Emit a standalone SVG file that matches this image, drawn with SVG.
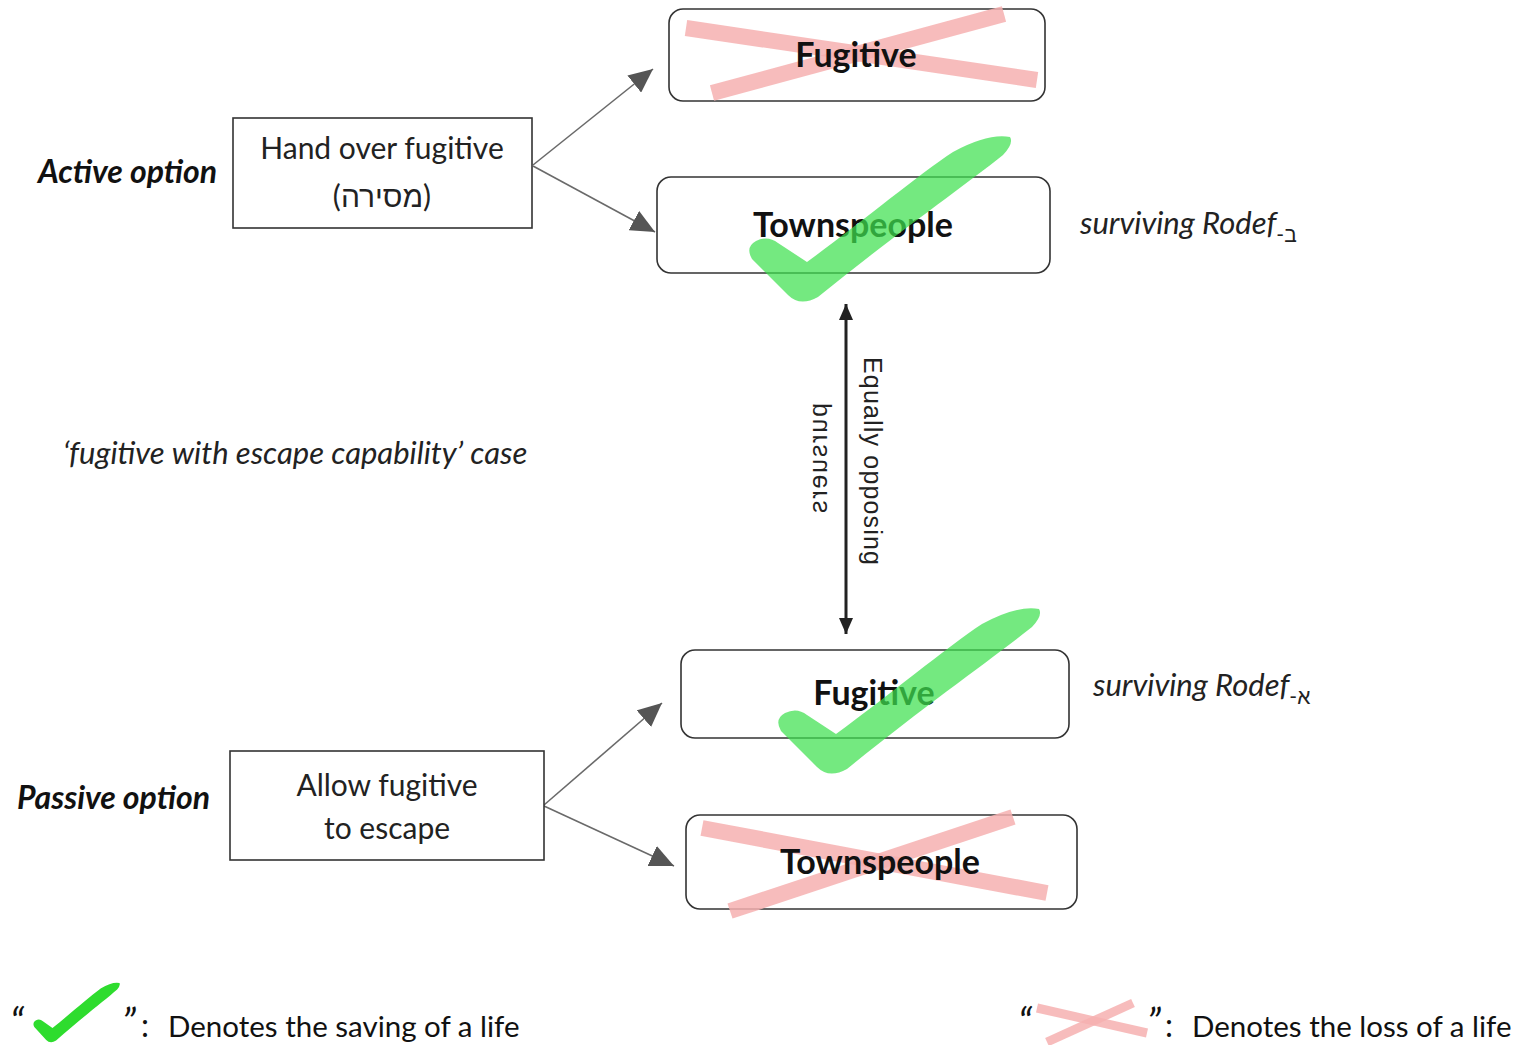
<svg xmlns="http://www.w3.org/2000/svg" width="1520" height="1045" viewBox="0 0 1520 1045">
  <style>
    .box { fill: #ffffff; stroke: #333333; stroke-width: 1.6; }
    .rbox { fill: #ffffff; stroke: #333333; stroke-width: 1.6; }
    .lbl { font-family: Lato, "Liberation Sans", sans-serif; font-size: 30px; fill: #222222; text-anchor: middle; }
    .big { font-family: Lato, "Liberation Sans", sans-serif; font-size: 34px; font-weight: bold; fill: #111111; text-anchor: middle; }
    .opt { font-family: Lato, "Liberation Sans", sans-serif; font-size: 32px; font-weight: bold; font-style: italic; fill: #111111; }
    .ital { font-family: Lato, "Liberation Sans", sans-serif; font-size: 31px; font-style: italic; fill: #222222; }
    .sub { font-size: 21px; font-style: normal; }
    .vert { font-family: "Liberation Sans", Arial, sans-serif; font-size: 25px; fill: #222222; }
    .legend { font-family: Lato, "Liberation Sans", sans-serif; font-size: 29.5px; fill: #111111; }
    .quote { font-family: Lato, "Liberation Sans", sans-serif; font-size: 40px; font-style: italic; fill: #111111; }
    .colon { font-family: Lato, "Liberation Sans", sans-serif; font-size: 32px; fill: #111111; }
    .cross { stroke: #f6b0b0; stroke-opacity: 0.85; stroke-width: 16; stroke-linecap: butt; fill: none; }
    .conn { stroke: #6a6a6a; stroke-width: 1.6; fill: none; }
    .dbl { stroke: #222222; stroke-width: 3; fill: none; }
  </style>
  <defs>
    <marker id="tri" viewBox="0 0 24 22" refX="24" refY="11" markerWidth="24" markerHeight="22" markerUnits="userSpaceOnUse" orient="auto">
      <path d="M0 0 L24 11 L0 22 Z" fill="#555555"/>
    </marker>
    <marker id="head" viewBox="0 0 16 14" refX="16" refY="7" markerWidth="16" markerHeight="14" markerUnits="userSpaceOnUse" orient="auto-start-reverse">
      <path d="M0 0 L16 7 L0 14 Z" fill="#222222"/>
    </marker>
    <!-- hand-drawn tick, local box about 264 x 165 -->
    <path id="tick" d="M59 125 C110 88 170 38 205 15 Q240 -4 262 0 Q266 6 255 18 C215 50 150 95 70 160 Q52 170 40 158 L4 122 Q-3 110 8 104 Q20 98 30 106 Z"/>
  </defs>

  <!-- connectors -->
  <g id="connectors">
    <line class="conn" x1="533" y1="165" x2="653" y2="69" marker-end="url(#tri)"/>
    <line class="conn" x1="533" y1="166" x2="655" y2="232" marker-end="url(#tri)"/>
    <line class="conn" x1="544" y1="805" x2="662" y2="703" marker-end="url(#tri)"/>
    <line class="conn" x1="544" y1="806" x2="674" y2="866" marker-end="url(#tri)"/>
    <line class="dbl" x1="846" y1="304" x2="846" y2="634" marker-start="url(#head)" marker-end="url(#head)"/>
    <text class="vert" transform="translate(864,357) rotate(90)" textLength="208" lengthAdjust="spacing">Equally opposing</text>
    <text class="vert" transform="translate(827,403) rotate(90) scale(1,-1)" textLength="110" lengthAdjust="spacing">pursuers</text>
  </g>

  <!-- active option -->
  <g id="active-label">
    <text class="opt" x="38" y="183">Active option</text>
  </g>
  <g id="hand-over">
    <rect class="box" x="233" y="118" width="299" height="110"/>
    <text class="lbl" x="382" y="159">Hand over fugitive</text>
    <text class="lbl" x="382" y="207">(מסירה)</text>
  </g>

  <g id="fugitive-top">
    <rect class="rbox" x="669" y="9" width="376" height="92" rx="14"/>
    <line class="cross" x1="686" y1="28" x2="1037" y2="80"/>
    <line class="cross" x1="712" y1="93" x2="1004" y2="14"/>
    <text class="big" x="856" y="67">Fugitive</text>
  </g>

  <g id="townspeople-top">
    <rect class="rbox" x="657" y="177" width="393" height="96" rx="14"/>
    <text class="big" x="853" y="237">Townspeople</text>
    <use href="#tick" transform="translate(748,137)" fill="#3fe04f" fill-opacity="0.72"/>
  </g>
  <g id="rodef-bet">
    <text class="ital" x="1080" y="234">surviving Rodef<tspan class="sub" dy="8">-ב</tspan></text>
  </g>

  <!-- case caption -->
  <g id="case-label">
    <text class="ital" x="63" y="464">‘fugitive with escape capability’ case</text>
  </g>

  <!-- passive option -->
  <g id="fugitive-bottom">
    <rect class="rbox" x="681" y="650" width="388" height="88" rx="14"/>
    <text class="big" x="874" y="705">Fugitive</text>
    <use href="#tick" transform="translate(777,609)" fill="#3fe04f" fill-opacity="0.72"/>
  </g>
  <g id="rodef-alef">
    <text class="ital" x="1093" y="696">surviving Rodef<tspan class="sub" dy="8">-א</tspan></text>
  </g>

  <g id="passive-label">
    <text class="opt" x="17" y="809">Passive option</text>
  </g>
  <g id="allow-escape">
    <rect class="box" x="230" y="751" width="314" height="109"/>
    <text class="lbl" x="387" y="796">Allow fugitive</text>
    <text class="lbl" x="387" y="839">to escape</text>
  </g>

  <g id="townspeople-bottom">
    <rect class="rbox" x="686" y="815" width="391" height="94" rx="14"/>
    <line class="cross" x1="702" y1="828" x2="1047" y2="893"/>
    <line class="cross" x1="730" y1="911" x2="1013" y2="817"/>
    <text class="big" x="880" y="874">Townspeople</text>
  </g>

  <!-- legend -->
  <g id="legend-save">
    <text class="quote" x="10" y="1037">“</text>
    <use href="#tick" transform="translate(33,983) scale(0.33,0.36)" fill="#2edc2e"/>
    <text class="quote" x="122" y="1037">”</text>
    <text class="colon" x="141" y="1037">:</text>
    <text class="legend" x="168" y="1037">Denotes the saving of a life</text>
  </g>
  <g id="legend-loss">
    <text class="quote" x="1018" y="1037">“</text>
    <line class="cross" style="stroke-width:9" x1="1037" y1="1008" x2="1147" y2="1033"/>
    <line class="cross" style="stroke-width:9" x1="1047" y1="1042" x2="1133" y2="1003"/>
    <text class="quote" x="1147" y="1037">”</text>
    <text class="colon" x="1165" y="1037">:</text>
    <text class="legend" x="1192" y="1037">Denotes the loss of a life</text>
  </g>
</svg>
